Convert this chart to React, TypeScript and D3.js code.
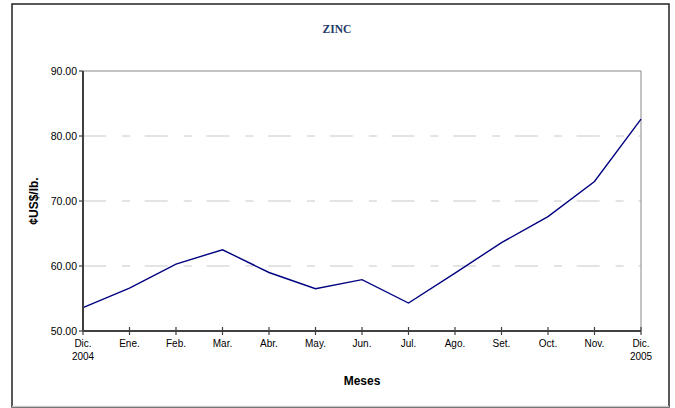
import React from "react";
import * as d3 from "d3";

const months = ["Dic.", "Ene.", "Feb.", "Mar.", "Abr.", "May.", "Jun.", "Jul.", "Ago.", "Set.", "Oct.", "Nov.", "Dic."];
const yearLabels = ["2004", "", "", "", "", "", "", "", "", "", "", "", "2005"];
const zinc = [53.6, 56.6, 60.3, 62.5, 59.0, 56.5, 57.9, 54.3, 58.9, 63.6, 67.6, 73.0, 82.6];
const yTicks = [50, 60, 70, 80, 90];
const title = "ZINC";
const yTitle = "¢US$/lb.";
const xTitle = "Meses";

export default function App() {
  const W = 675, H = 408;
  const left = 83, right = 641, top = 71, bottom = 331;
  const x = d3.scaleLinear().domain([0, months.length - 1]).range([left, right]);
  const y = d3.scaleLinear().domain([50, 90]).range([bottom, top]);
  const line = d3.line<number>().x((_, i) => x(i)).y((d) => y(d));
  const font = "Arial, 'Liberation Sans', Helvetica, sans-serif";
  return (
    <svg width={W} height={H} style={{ position: "absolute", left: 0, top: 0 }}>
      <rect x={0} y={0} width={W} height={H} fill="#fff" />
      <rect x={12} y={4} width={657} height={403} fill="#fff" stroke="#222" strokeWidth={1.5} />
      <line x1={12} x2={669} y1={406.5} y2={406.5} stroke="#ccc" strokeWidth={1.5} />
      <text x={337} y={33} textAnchor="middle" fontFamily="'Liberation Serif', 'Times New Roman', serif" fontWeight="bold" fontSize={11.5} fill="#1F3A6B">{title}</text>
      {yTicks.filter((t) => t !== 50 && t !== 90).map((t) => (
        <line key={t} x1={left} x2={right} y1={y(t)} y2={y(t)} stroke="#c8c8c8" strokeWidth={1} strokeDasharray="23,16,8,14.7" />
      ))}
      <line x1={left} x2={right} y1={top} y2={top} stroke="#888" strokeWidth={1} />
      <line x1={right} x2={right} y1={top} y2={bottom} stroke="#888" strokeWidth={1} />
      <path d={line(zinc) || ""} fill="none" stroke="#000080" strokeWidth={1.4} />
      <line x1={left} x2={left} y1={top} y2={bottom} stroke="#404040" strokeWidth={2} />
      <line x1={left} x2={right} y1={bottom} y2={bottom} stroke="#404040" strokeWidth={2} />
      {yTicks.map((t) => (
        <g key={t}>
          <line x1={left - 4} x2={left} y1={y(t)} y2={y(t)} stroke="#404040" strokeWidth={1.2} />
          <text x={left - 6} y={y(t) + 3.5} textAnchor="end" fontFamily={font} fontSize={10.5} fill="#000">{t.toFixed(2)}</text>
        </g>
      ))}
      {months.map((m, i) => (
        <g key={i}>
          <line x1={x(i)} x2={x(i)} y1={bottom - 4} y2={bottom + 4} stroke="#404040" strokeWidth={1.2} />
          <text x={x(i)} y={bottom + 16} textAnchor="middle" fontFamily={font} fontSize={10} fill="#000">{m}</text>
          {yearLabels[i] && (
            <text x={x(i)} y={bottom + 29} textAnchor="middle" fontFamily={font} fontSize={10} fill="#000">{yearLabels[i]}</text>
          )}
        </g>
      ))}
      <text x={362} y={385} textAnchor="middle" fontFamily={font} fontWeight="bold" fontSize={12} fill="#000">{xTitle}</text>
      <text transform={`translate(38,${(top + bottom) / 2}) rotate(-90)`} textAnchor="middle" fontFamily={font} fontWeight="bold" fontSize={12} fill="#000">{yTitle}</text>
    </svg>
  );
}
